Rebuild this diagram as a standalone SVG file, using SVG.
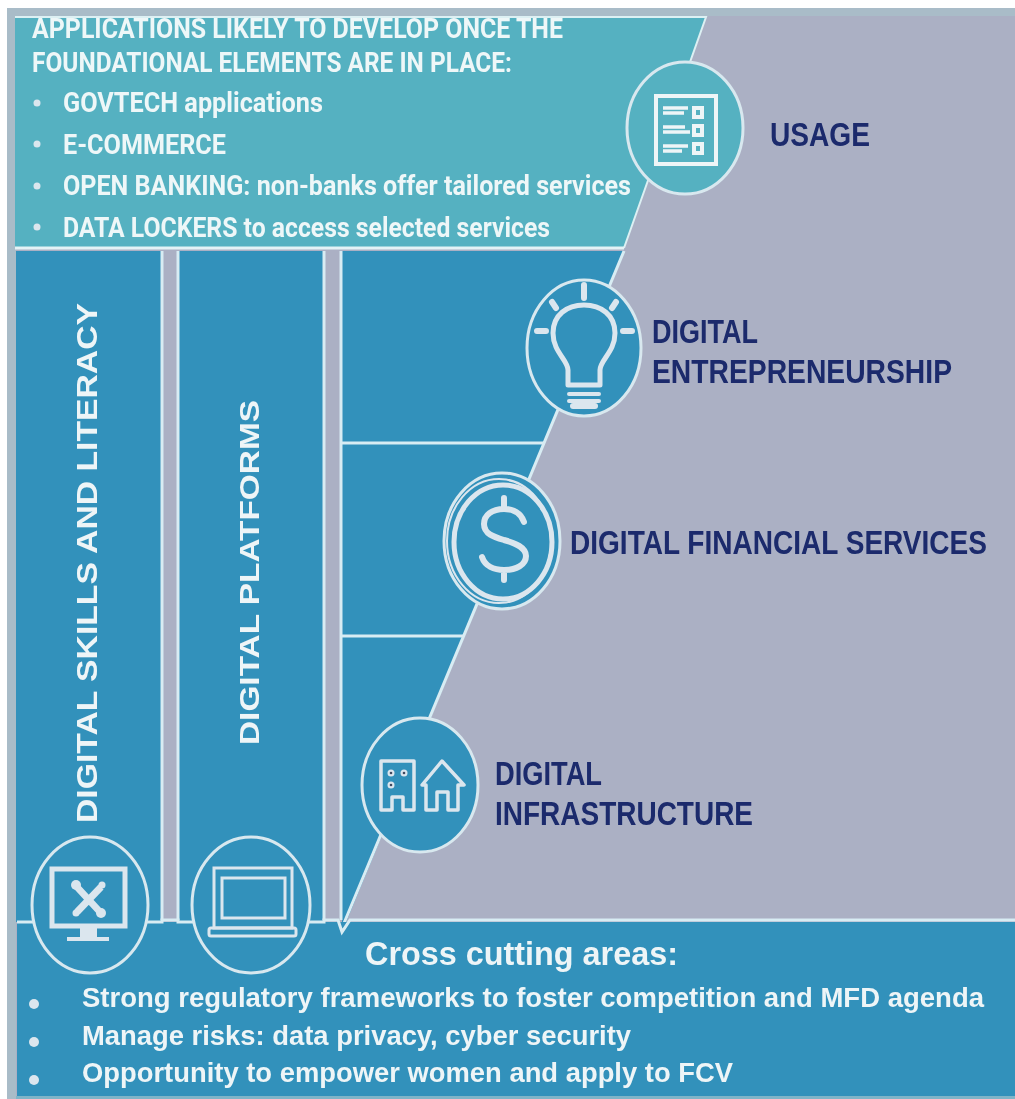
<svg xmlns="http://www.w3.org/2000/svg" width="1015" height="1099" viewBox="0 0 1015 1099">
<style>
.w{font-family:"Liberation Sans",Arial,sans-serif;font-weight:700;fill:#eef5f7}
.n{font-family:"Liberation Sans",Arial,sans-serif;font-weight:700;fill:#1a2a6c;font-size:33px}
.p{font-family:"Roboto","Liberation Sans",sans-serif;font-weight:700;fill:#eef7f8;font-size:27px}
.line{fill:none;stroke:#d8ecf3;stroke-width:3}
.ring{stroke:#d8e8ef;stroke-width:3}
.ic{fill:none;stroke:#dbe6ee;stroke-width:5;stroke-linejoin:round;stroke-linecap:round}
.s{fill:#dbe6ee}
.u{fill:none;stroke:#eef5f7;stroke-width:4}
</style>
<defs><filter id="b" x="-5%" y="-5%" width="110%" height="110%"><feGaussianBlur stdDeviation="0.7"/></filter></defs>
<rect width="1015" height="1099" fill="#fff"/>
<rect x="7" y="8" width="1008" height="1091" fill="#abb0c4"/>
<rect x="7" y="8" width="1008" height="8" fill="#a9bcc8"/>
<rect x="7" y="8" width="9" height="1091" fill="#a9bcc8"/>
<rect x="16" y="1096" width="999" height="3" fill="#7fb4c8"/>
<g id="panels" filter="url(#b)">
<path id="usage-panel" d="M15 17H706L624 248H15Z" fill="#55b1c1"/>
<path d="M15 17H706L624 248" fill="none" stroke="#dcf0f3" stroke-width="2"/>
<path d="M15 248H624" fill="none" stroke="#e4f3f6" stroke-width="3"/>
<rect id="skills-panel" x="16" y="251" width="146" height="671" fill="#3391bb"/>
<rect id="platforms-panel" x="179" y="251" width="145" height="671" fill="#3391bb"/>
<path id="layers-panel" d="M342 251H624L342 932Z" fill="#3391bb"/>
<path d="M162 251V920M178 251V920M324 251V920M341 251V920M624 251L342 928" class="line"/>
<path id="cross-panel" d="M17 922H1015V1096H17Z" fill="#3391bb"/>
<path d="M341 922L342 932L348 922Z" fill="#3391bb"/>
<path d="M17 922H162V920H178V922H324V920H338L342 932L350 920H1015" class="line"/>
</g>
<g id="connectors" filter="url(#b)"><path d="M342 443H545M342 636H464" class="line"/></g>
<g id="usage-text" filter="url(#b)">
<text class="p" x="32" y="38" textLength="531" lengthAdjust="spacingAndGlyphs">APPLICATIONS LIKELY TO DEVELOP ONCE THE</text>
<text class="p" x="32" y="72" textLength="480" lengthAdjust="spacingAndGlyphs">FOUNDATIONAL ELEMENTS ARE IN PLACE:</text>
<circle cx="37" cy="103" r="3.5" class="s"/><circle cx="37" cy="144" r="3.5" class="s"/><circle cx="37" cy="186" r="3.5" class="s"/><circle cx="37" cy="227" r="3.5" class="s"/>
<text class="p" x="63" y="112" textLength="260" lengthAdjust="spacingAndGlyphs">GOVTECH applications</text>
<text class="p" x="63" y="154" textLength="163" lengthAdjust="spacingAndGlyphs">E-COMMERCE</text>
<text class="p" x="63" y="195" textLength="568" lengthAdjust="spacingAndGlyphs">OPEN BANKING: non-banks offer tailored services</text>
<text class="p" x="63" y="237" textLength="487" lengthAdjust="spacingAndGlyphs">DATA LOCKERS to access selected services</text>
</g>
<g id="node-usage" filter="url(#b)">
<ellipse cx="685" cy="128" rx="58" ry="66" fill="#55b1c1" class="ring"/>
<rect x="656" y="96" width="60" height="68" class="u" stroke-width="5"/>
<path d="M663 108H688M663 113H684M663 127H685M663 132H690M663 146H688M663 151H682" stroke="#eef5f7" stroke-width="3.5" fill="none"/>
<rect x="694" y="108" width="8" height="9" class="u"/>
<rect x="694" y="126" width="8" height="9" class="u"/>
<rect x="694" y="144" width="8" height="9" class="u"/>
<text class="n" x="770" y="146" textLength="100" lengthAdjust="spacingAndGlyphs">USAGE</text>
</g>
<g id="node-entrepreneurship" filter="url(#b)">
<ellipse cx="584" cy="348" rx="57" ry="68" fill="#3391bb" class="ring"/>
<path class="ic" d="M568 385V370C568 360 553 352 553 333C553 315 567 305 584 305C601 305 615 315 615 333C615 352 600 360 600 370V385Z"/>
<path class="ic" style="stroke-width:6" d="M584 285V298M552 302L556 308M616 302L612 308M537 331H546M623 331H632"/>
<path class="ic" style="stroke-width:4" d="M569 394H599M569 401H599"/>
<path class="ic" style="stroke-width:6" d="M573 406H595"/>
<text class="n" x="652" y="343" textLength="106" lengthAdjust="spacingAndGlyphs">DIGITAL</text>
<text class="n" x="652" y="383" textLength="300" lengthAdjust="spacingAndGlyphs">ENTREPRENEURSHIP</text>
</g>
<g id="node-financial" filter="url(#b)">
<ellipse cx="502" cy="541" rx="58" ry="68" fill="#3391bb" class="ring"/>
<ellipse cx="499" cy="541" rx="52" ry="62" fill="none" stroke="#dbe6ee" stroke-width="2"/>
<ellipse cx="503" cy="542" rx="49" ry="57" fill="none" stroke="#dbe6ee" stroke-width="5"/>
<path class="ic" style="stroke-width:6" d="M524 522C521 513 513 509 504 509C492 509 484 515 484 524C484 534 494 537 504 540C515 543 526 547 526 556C526 565 516 570 504 570C494 570 485 566 482 557M504 498V508M504 570V580"/>
<text class="n" x="570" y="554" textLength="417" lengthAdjust="spacingAndGlyphs">DIGITAL FINANCIAL SERVICES</text>
</g>
<g id="node-infrastructure" filter="url(#b)">
<ellipse cx="420" cy="785" rx="58" ry="67" fill="#3391bb" class="ring"/>
<path class="ic" style="stroke-width:3.5" d="M381 761H414V810H403V797H392V810H381Z"/>
<circle cx="391" cy="773" r="3.5" class="s"/><circle cx="404" cy="773" r="3.5" class="s"/><circle cx="391" cy="785" r="3.5" class="s"/>
<circle cx="391" cy="773" r="1.3" fill="#3f4a60"/><circle cx="404" cy="773" r="1.3" fill="#3f4a60"/><circle cx="391" cy="785" r="1.3" fill="#3f4a60"/>
<path class="ic" style="stroke-width:3.5" d="M422 785L442 761L464 785H458V810H448V792H437V810H426V785Z"/>
<text class="n" x="495" y="785" textLength="107" lengthAdjust="spacingAndGlyphs">DIGITAL</text>
<text class="n" x="495" y="825" textLength="258" lengthAdjust="spacingAndGlyphs">INFRASTRUCTURE</text>
</g>
<g id="node-skills" filter="url(#b)">
<ellipse cx="90" cy="905" rx="58" ry="68" fill="#3391bb" class="ring"/>
<rect x="52" y="869" width="73" height="57" fill="none" stroke="#dbe6ee" stroke-width="5"/>
<path d="M77 887L100 912M101 887L77 912" stroke="#dbe6ee" stroke-width="7" fill="none"/>
<circle cx="76" cy="885" r="5" class="s"/><circle cx="101" cy="913" r="5" class="s"/><circle cx="102" cy="885" r="3.5" class="s"/><circle cx="76" cy="913" r="3.5" class="s"/>
<path d="M80 928H97V937H109V941H67V937H80Z" class="s"/>
<text class="w" font-size="30" transform="translate(97 823) rotate(-90)" textLength="520" lengthAdjust="spacingAndGlyphs">DIGITAL SKILLS AND LITERACY</text>
</g>
<g id="node-platforms" filter="url(#b)">
<ellipse cx="251" cy="905" rx="59" ry="68" fill="#3391bb" class="ring"/>
<rect x="214" y="868" width="78" height="60" fill="none" stroke="#dbe6ee" stroke-width="3"/>
<rect x="222" y="878" width="63" height="40" fill="none" stroke="#dbe6ee" stroke-width="3"/>
<rect x="209" y="928" width="87" height="8" rx="2" fill="none" stroke="#dbe6ee" stroke-width="3"/>
<text class="w" font-size="28" transform="translate(259 745) rotate(-90)" textLength="345" lengthAdjust="spacingAndGlyphs">DIGITAL PLATFORMS</text>
</g>
<g id="cross-text" filter="url(#b)">
<text class="w" font-size="33" x="365" y="965" textLength="313" lengthAdjust="spacingAndGlyphs">Cross cutting areas:</text>
<circle cx="34" cy="1004" r="5" class="s"/><circle cx="34" cy="1042" r="5" class="s"/><circle cx="34" cy="1080" r="5" class="s"/>
<text class="w" font-size="28" x="82" y="1007" textLength="902" lengthAdjust="spacingAndGlyphs">Strong regulatory frameworks to foster competition and MFD agenda</text>
<text class="w" font-size="28" x="82" y="1045" textLength="549" lengthAdjust="spacingAndGlyphs">Manage risks: data privacy, cyber security</text>
<text class="w" font-size="28" x="82" y="1082" textLength="651" lengthAdjust="spacingAndGlyphs">Opportunity to empower women and apply to FCV</text>
</g>
</svg>
